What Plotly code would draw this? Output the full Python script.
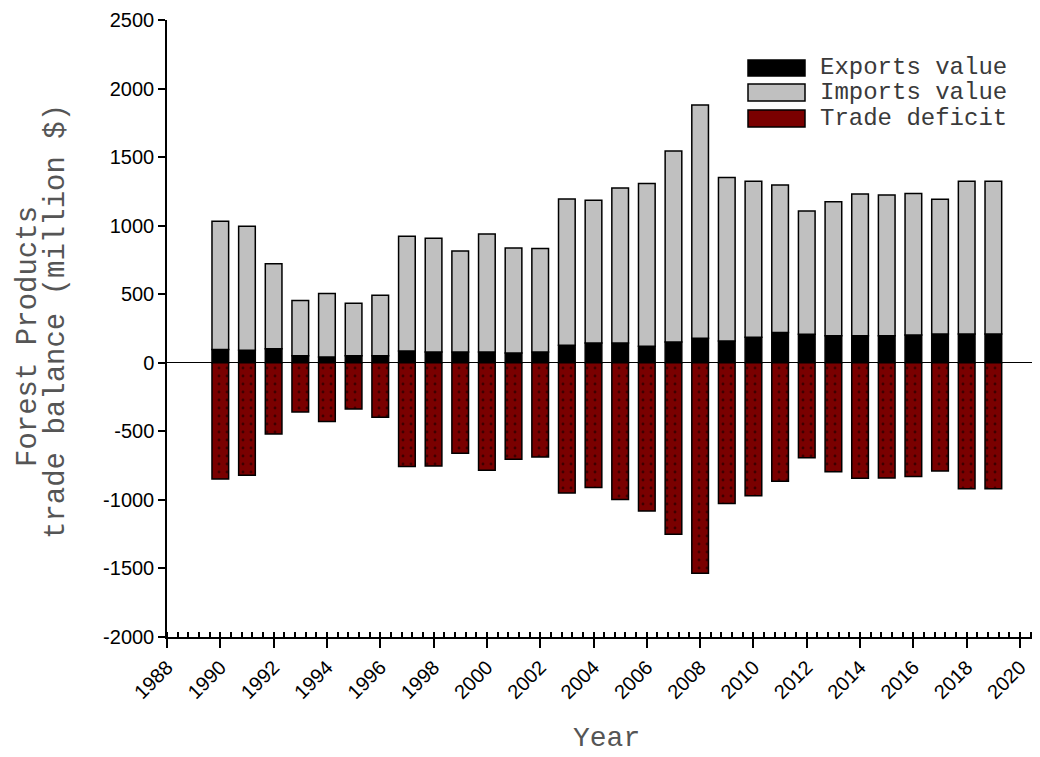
import plotly.graph_objects as go

years = list(range(1990, 2020))
exports = [96, 91, 103, 52, 42, 52, 52, 86, 79, 79, 79, 72, 79, 128, 145,
           145, 120, 152, 179, 159, 186, 220, 208, 198, 198, 198, 203, 210, 210, 210]
imports = [936, 904, 620, 402, 463, 382, 440, 836, 829, 737, 860, 765, 754, 1067, 1040,
           1130, 1187, 1393, 1701, 1192, 1138, 1077, 899, 977, 1033, 1026, 1031, 982, 1114, 1114]
deficit = [-847, -820, -519, -359, -429, -337, -397, -757, -753, -660, -784, -704, -687, -949, -910,
           -998, -1081, -1251, -1535, -1027, -969, -864, -692, -794, -842, -840, -830, -789, -918, -918]
y_ticks = [-2000, -1500, -1000, -500, 0, 500, 1000, 1500, 2000, 2500]
y_labels = ["-2000", "-1500", "-1000", "-500", "0", "500", "1000", "1500", "2000", "2500"]
x_ticks = list(range(1988, 2021, 2))
x_labels = [str(v) for v in x_ticks]
legend_names = ["Exports value", "Imports value", "Trade deficit"]
colors = ["#000000", "#c0c0c0", "#7a0000"]

# page body has an 8px margin; target screen coords are offset accordingly
OFF = 8
W, H = 1040 - OFF, 757 - OFF
L, R, T, B = 167 - OFF, 0, 20 - OFF, 757 - 637
pw, ph = W - L - R, H - T - B

def px(xs):
    return (xs - OFF - L) / pw

def py(ys):
    return (H - B - (ys - OFF)) / ph

fig = go.Figure()
line = dict(color="black", width=1.5)
fig.add_trace(go.Bar(x=years, y=exports, name=legend_names[0], width=0.625,
                     marker=dict(color=colors[0], line=line)))
fig.add_trace(go.Bar(x=years, y=imports, name=legend_names[1], width=0.625,
                     marker=dict(color=colors[1], line=line)))
fig.add_trace(go.Bar(x=years, y=deficit, name=legend_names[2], width=0.625,
                     marker=dict(color=colors[2], line=line,
                                 pattern=dict(shape=".", fgcolor="black", bgcolor=colors[2],
                                              size=8, solidity=0.1))))

tickfont = dict(family="Liberation Sans, Arial", size=20, color="black")
ytitlefont = dict(family="Liberation Mono, monospace", size=29, color="#555555")
xtitlefont = dict(family="Liberation Mono, monospace", size=28, color="#555555")
legfont = dict(family="Liberation Mono, monospace", size=24, color="#3a3a3a")

fig.update_layout(
    width=W, height=H, barmode="relative", showlegend=False,
    margin=dict(l=L, r=R, t=T, b=B, autoexpand=False),
    paper_bgcolor="white", plot_bgcolor="white",
    xaxis=dict(range=[1988, 2020.75], tickvals=x_ticks, ticktext=x_labels,
               tickangle=-45, tickfont=tickfont, ticks="outside", ticklen=9, tickwidth=1.5,
               tickcolor="black", showline=True, linecolor="black", linewidth=1.5,
               showgrid=False, zeroline=False, automargin=False,
               minor=dict(dtick=0.4, tick0=1988, ticks="inside", ticklen=5, tickwidth=1.5,
                          tickcolor="black", showgrid=False)),
    yaxis=dict(range=[-2000, 2500], tickvals=y_ticks, ticktext=y_labels, tickfont=tickfont,
               ticks="outside", ticklen=7, tickwidth=1.5, tickcolor="black", showline=True,
               linecolor="black", linewidth=1.5, showgrid=False, zeroline=True,
               zerolinecolor="black", zerolinewidth=1, automargin=False),
)

# Custom legend
sw_rows = [(60, 76), (84, 101), (110, 127)]
for (y0, y1), c, name in zip(sw_rows, colors, legend_names):
    fig.add_shape(type="rect", xref="paper", yref="paper",
                  x0=px(748), x1=px(805), y0=py(y1), y1=py(y0),
                  fillcolor=c, line=dict(color="black", width=1.5))
    fig.add_annotation(xref="paper", yref="paper", x=px(818), y=py((y0 + y1) / 2),
                       text=name, showarrow=False, xanchor="left", yanchor="middle",
                       font=legfont)

# Axis titles
fig.add_annotation(xref="paper", yref="paper", x=px(28), y=py(337), text="Forest Products",
                   textangle=-90, showarrow=False, xanchor="center", yanchor="middle",
                   font=ytitlefont)
fig.add_annotation(xref="paper", yref="paper", x=px(56), y=py(322),
                   text="trade balance (million $)", textangle=-90, showarrow=False,
                   xanchor="center", yanchor="middle", font=ytitlefont)
fig.add_annotation(xref="paper", yref="paper", x=px(606), y=py(738), text="Year",
                   showarrow=False, xanchor="center", yanchor="middle", font=xtitlefont)

fig.write_html("out.html")
